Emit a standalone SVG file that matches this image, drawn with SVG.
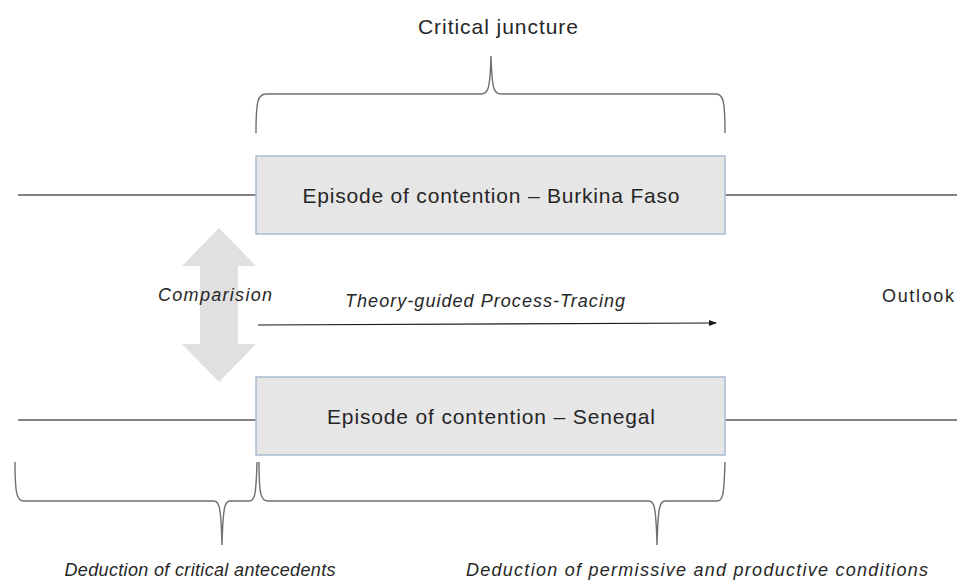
<svg xmlns="http://www.w3.org/2000/svg" width="957" height="581" viewBox="0 0 957 581">
  <style>
    .box { fill: #e6e6e6; stroke: #a9bcd0; stroke-width: 1.5; }
    .label { font-family: "Liberation Sans", Arial, sans-serif; fill: #262626; }
    .boxtext { font-size: 21px; text-anchor: middle; }
    .ital { font-style: italic; font-size: 18px; }
    .line { stroke: #595959; stroke-width: 1.3; fill: none; }
    .brace { stroke: #6f6f6f; stroke-width: 1.4; fill: none; }
  </style>
  <defs>
    <marker id="arrowhead" markerWidth="8" markerHeight="8" refX="7" refY="4" orient="auto" markerUnits="userSpaceOnUse">
      <path d="M0,1 L8,4 L0,7 Z" fill="#1a1a1a"/>
    </marker>
  </defs>

  <rect width="957" height="581" fill="#ffffff"/>

  <!-- Connectors: timelines, braces, process arrow -->
  <g id="connectors">
    <line class="line" x1="18" y1="195" x2="256" y2="195"/>
    <line class="line" x1="725" y1="195" x2="957" y2="195"/>
    <line class="line" x1="18" y1="420" x2="256" y2="420"/>
    <line class="line" x1="725" y1="420" x2="957" y2="420"/>

    <path class="brace" d="M256,133 C256,100 258,94 266,94 L481,94 C488,94 490,90 491,56 C492,90 494,94 501,94 L716,94 C723,94 725,100 725,133"/>
    <path class="brace" d="M15,462 C15,495 17,501 24,501 L214,501 C219,501 221,506 222,545 C223,506 225,501 230,501 L249,501 C255,501 256,495 257,462"/>
    <path class="brace" d="M259,462 C259,495 261,501 268,501 L649,501 C654,501 656,506 657,545 C658,506 660,501 665,501 L717,501 C723,501 724,495 725,462"/>

    <line x1="258" y1="325" x2="716" y2="323" stroke="#1a1a1a" stroke-width="1.2" marker-end="url(#arrowhead)"/>

    <path id="comparison-arrow" d="M219,228 L256,266 L238,266 L238,344 L256,344 L219,382 L182,344 L200,344 L200,266 L182,266 Z" fill="#e0e0e0"/>
  </g>

  <g id="episode-burkina">
    <rect class="box" x="256" y="156" width="469" height="78"/>
    <text class="label boxtext" x="491" y="203" textLength="377">Episode of contention – Burkina Faso</text>
  </g>

  <g id="episode-senegal">
    <rect class="box" x="256" y="377" width="469" height="78"/>
    <text class="label boxtext" x="491" y="424" textLength="328">Episode of contention – Senegal</text>
  </g>

  <g id="labels">
    <text class="label" x="498" y="34" font-size="21" text-anchor="middle" textLength="160">Critical juncture</text>
    <text class="label ital" x="215" y="301" text-anchor="middle" textLength="114">Comparision</text>
    <text class="label ital" x="485" y="307" text-anchor="middle" textLength="280">Theory-guided Process-Tracing</text>
    <text class="label" x="918" y="302" font-size="18" text-anchor="middle" textLength="72">Outlook</text>
    <text class="label ital" x="200" y="576" text-anchor="middle" textLength="271">Deduction of critical antecedents</text>
    <text class="label ital" x="697" y="576" text-anchor="middle" textLength="462">Deduction of permissive and productive conditions</text>
  </g>
</svg>
